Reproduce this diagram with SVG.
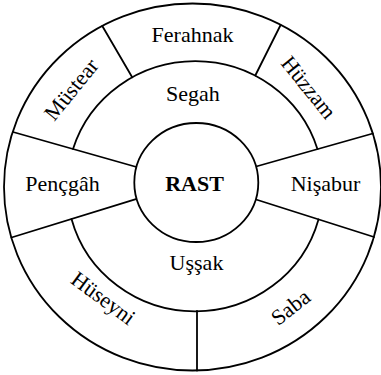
<svg xmlns="http://www.w3.org/2000/svg" width="381" height="375" viewBox="0 0 381 375">
  <style>
    .ln { fill: none; stroke: #000; stroke-width: 1.8; stroke-linecap: round; }
    .bg { fill: #fff; stroke: #000; stroke-width: 1.8; }
    text { font-family: "Liberation Serif", "Times New Roman", serif; font-size: 22px; fill: #000; text-anchor: middle; }
    .bold { font-weight: bold; }
  </style>
  <rect width="381" height="375" fill="#fff"/>
  <g id="outer-ring">
    <ellipse class="bg" cx="192.5" cy="187" rx="188.5" ry="183.5"/>
  </g>
  <g id="connectors">
    <line class="ln" x1="102.3" y1="26" x2="132.2" y2="77.3"/>
    <line class="ln" x1="280.6" y1="25" x2="255.3" y2="75.5"/>
    <line class="ln" x1="197" y1="311" x2="197" y2="370.5"/>
    <line class="ln" x1="13" y1="132" x2="136.5" y2="167"/>
    <line class="ln" x1="11.5" y1="237.5" x2="136.7" y2="198.9"/>
    <line class="ln" x1="372.8" y1="133.5" x2="256.1" y2="166.5"/>
    <line class="ln" x1="374" y1="237" x2="256" y2="199.5"/>
    <path class="ln" d="M 73 149 A 128 125 0 0 1 317.5 149.2"/>
    <path class="ln" d="M 71.5 219 A 128 125 0 0 0 318.5 219.4"/>
  </g>
  <g id="rast">
    <ellipse class="bg" cx="196.3" cy="182.5" rx="62" ry="59.5"/>
    <text class="bold" x="194.5" y="191">RAST</text>
  </g>
  <g id="ferahnak"><text x="192.5" y="42">Ferahnak</text></g>
  <g id="segah"><text x="193" y="101">Segah</text></g>
  <g id="pencgah"><text x="62.5" y="191">Pençgâh</text></g>
  <g id="nisabur"><text x="325.5" y="191">Nişabur</text></g>
  <g id="ussak"><text x="196.5" y="270">Uşşak</text></g>
  <g id="mustear"><text transform="translate(77 94) rotate(-51)">Müstear</text></g>
  <g id="huzzam"><text transform="translate(303 92) rotate(51)">Hüzzam</text></g>
  <g id="huseyni"><text transform="translate(99 304) rotate(36.5)">Hüseyni</text></g>
  <g id="saba"><text transform="translate(295 313) rotate(-38)">Saba</text></g>
</svg>
